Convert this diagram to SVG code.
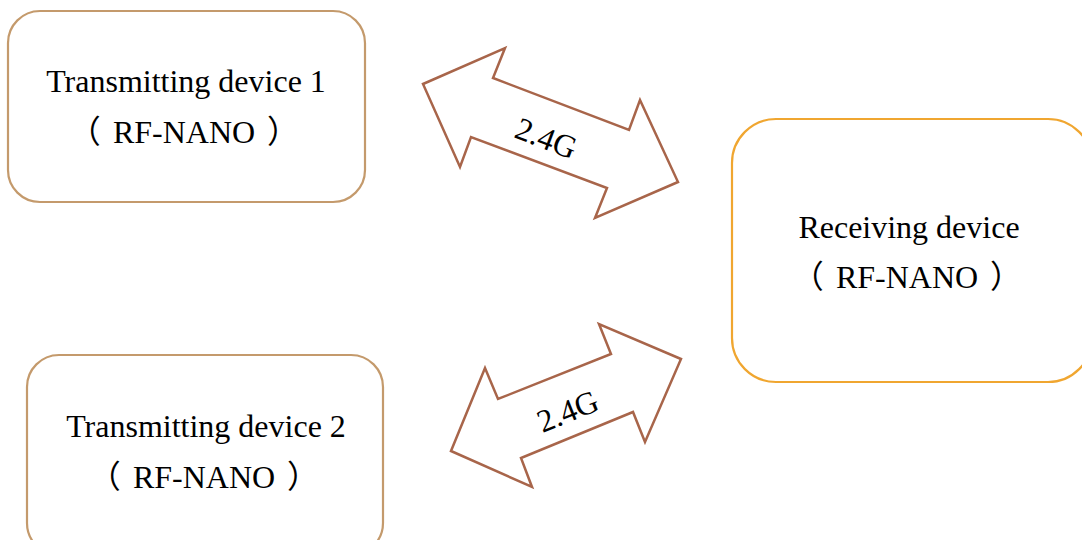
<svg xmlns="http://www.w3.org/2000/svg" width="1082" height="540" viewBox="0 0 1082 540">
<style>
.box{fill:#ffffff;stroke-width:2.2}
.tx{stroke:#C49A6C}
.rx{stroke:#F0A630}
.lbl{font-family:"Liberation Serif","Noto Sans CJK SC",serif;font-size:32px;fill:#000;text-anchor:middle}
.arr{fill:#ffffff;stroke:#A8654A;stroke-width:2.5;stroke-linejoin:miter}
</style>
<rect width="1082" height="540" fill="#ffffff"/>
<g id="tx1">
<rect class="box tx" x="8" y="11" width="357" height="191" rx="32" ry="32"/>
<text class="lbl" x="186" y="92">Transmitting device 1</text>
<text class="lbl" x="184" y="143">（<tspan dx="12">RF-NANO</tspan><tspan dx="12">）</tspan></text>
</g>
<g id="tx2">
<rect class="box tx" x="27" y="355" width="356" height="200" rx="32" ry="32"/>
<text class="lbl" x="206" y="437">Transmitting device 2</text>
<text class="lbl" x="204" y="488">（<tspan dx="12">RF-NANO</tspan><tspan dx="12">）</tspan></text>
</g>
<g id="rx">
<rect class="box rx" x="732" y="119" width="360" height="263" rx="44" ry="44"/>
<text class="lbl" x="909" y="238">Receiving device</text>
<text class="lbl" x="907" y="288">（<tspan dx="12">RF-NANO</tspan><tspan dx="12">）</tspan></text>
</g>
<g id="connectors">
<g id="link1">
<polygon class="arr" points="423,84 505,48 493,78 629,130 640,100 678,182 595,218 607,188 471,137 460,167"/>
<text class="lbl" transform="translate(546,139) rotate(21)" x="0" y="10">2.4G</text>
</g>
<g id="link2">
<polygon class="arr" points="451,451 485,368 498,399 611,354 599,324 681,359 645,442 633,412 521,458 532,487"/>
<text class="lbl" transform="translate(568,412) rotate(-22)" x="0" y="10">2.4G</text>
</g>
</g>
</svg>
